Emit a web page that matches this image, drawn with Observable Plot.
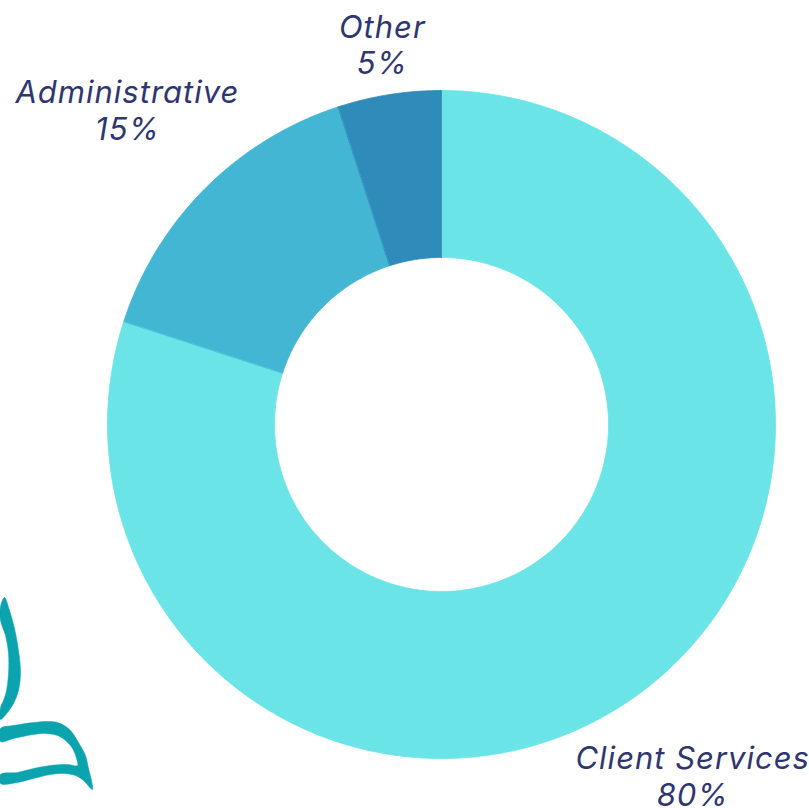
<!DOCTYPE html>
<html>
<head>
<meta charset="utf-8">
<script src="https://cdn.jsdelivr.net/npm/d3@7"></script>
<script src="https://cdn.jsdelivr.net/npm/@observablehq/plot@0.6"></script>
<style>
  html, body { margin: 0; padding: 0; background: #ffffff; }
  #chart svg { display: block; }
  #chart text { letter-spacing: 1px; }
</style>
</head>
<body>
<div id="chart"></div>
<script>
// ---- data ----
const categories = ["Client Services", "Administrative", "Other"];
const shares = [80, 15, 5];
const shareLabels = ["80%", "15%", "5%"];

// decorative leaf outlines (bottom-left corner ornament)
const leafUpperX = [4, 9, 14, 18, 20, 18, 13, 7, 0, 0, 3, 6, 8, 8, 5, 0, 0];
const leafUpperY = [597, 610, 628, 650, 672, 690, 703, 712, 719, 707, 700, 690, 673, 653, 635, 620, 606];
const leafLowerX = [0, 13, 33, 50, 60, 70, 78, 85, 88, 91, 92, 83, 75, 63, 50, 33, 17, 0, 0, 17, 33, 50, 67, 77, 76, 72, 65, 57, 43, 27, 13, 0];
const leafLowerY = [728, 725, 722, 721, 723, 730, 742, 755, 768, 780, 789, 780, 775, 773, 774, 778, 782, 783, 774, 772, 768, 765, 764, 765, 758, 748, 740, 735, 733, 735, 738, 741];

// ---- layout / style ----
const W = 809, H = 808;
const cx = 441, cy = 424, R = 334, r0 = 167;
const colors = {"Client Services": "#6AE4E6", "Administrative": "#43B6D4", "Other": "#2E8BBA"};
const labelRadius = {"Client Services": 1.30, "Administrative": 1.334, "Other": 1.153};
const labelNudgeX = {"Client Services": -5, "Administrative": 0, "Other": 0};
const textColor = "#2F3570";
const leafColor = "#0BA3AE";

const data = categories.map((c, i) => ({name: c, value: shares[i], label: shareLabels[i]}));
const arcs = d3.pie().sort(null).value(d => d.value)(data);

function ringPoints(a0, a1, name) {
  const pts = [];
  const n = Math.max(8, Math.ceil((a1 - a0) / 0.01));
  for (let k = 0; k <= n; k++) {
    const a = a0 + (a1 - a0) * k / n;
    pts.push({name, x: cx + R * Math.sin(a), y: cy - R * Math.cos(a)});
  }
  for (let k = n; k >= 0; k--) {
    const a = a0 + (a1 - a0) * k / n;
    pts.push({name, x: cx + r0 * Math.sin(a), y: cy - r0 * Math.cos(a)});
  }
  return pts;
}

const sliceMarks = arcs.map(a =>
  Plot.line(ringPoints(a.startAngle, a.endAngle, a.data.name), {
    x: "x", y: "y", curve: "linear-closed",
    fill: colors[a.data.name], stroke: colors[a.data.name], strokeWidth: 0.8
  })
);

const labels = arcs.map(a => {
  const m = (a.startAngle + a.endAngle) / 2;
  const rr = R * labelRadius[a.data.name];
  return {
    x: cx + rr * Math.sin(m) + labelNudgeX[a.data.name],
    y: cy - rr * Math.cos(m),
    text: a.data.name + "\n" + a.data.label
  };
});

const leafUpper = leafUpperX.map((x, i) => ({x, y: leafUpperY[i]}));
const leafLower = leafLowerX.map((x, i) => ({x, y: leafLowerY[i]}));

const chart = Plot.plot({
  width: W,
  height: H,
  margin: 0,
  style: {background: "#ffffff"},
  x: {domain: [0, W], range: [0, W], axis: null},
  y: {domain: [0, H], range: [0, H], axis: null},
  marks: [
    ...sliceMarks,
    Plot.line(leafUpper, {x: "x", y: "y", curve: "catmull-rom-closed", fill: leafColor, stroke: leafColor, strokeWidth: 0.5}),
    Plot.line(leafLower, {x: "x", y: "y", curve: "catmull-rom-closed", fill: leafColor, stroke: leafColor, strokeWidth: 0.5}),
    Plot.text(labels, {
      x: "x", y: "y", text: "text", dx: 1,
      fontSize: 31, fontStyle: "italic", fontFamily: "Inter, sans-serif",
      fill: textColor, lineHeight: 1.19, textAnchor: "middle"
    })
  ]
});
document.getElementById("chart").appendChild(chart);
</script>
</body>
</html>
